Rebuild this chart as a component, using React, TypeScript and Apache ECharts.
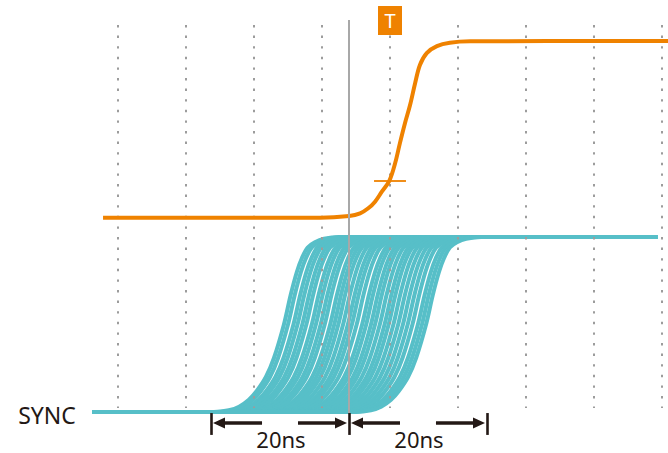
import React, { useEffect, useRef } from 'react';
import * as echarts from 'echarts';

// Time in ns (0 = trigger "T"), level in signal units (SYNC low = 0, high = 1)
const syncEdgeTime = [-10.3, -8.1, -6.6, -5.15, -4.0, -2.65, -1.45, 0, 1.0, 1.9, 2.65, 3.5, 4.55, 5.9, 8.1];
const syncEdgeLevel = [0, 0.01, 0.03, 0.07, 0.12, 0.2, 0.31, 0.5, 0.67, 0.8, 0.88, 0.94, 0.97, 0.99, 1.0];
// delay of each overlaid SYNC edge (ns, at 50 % level)
const syncDelays = [
  -15.6, -15.0, -14.2, -13.6, -12.9, -12.3, -11.5, -10.9, -10.2, -9.6, -8.8,
  -8.2, -7.6, -6.9, -6.2, -5.6, -4.9, -4.1, -3.5, -2.8, -2.2, -1.5, -0.8, -0.2,
  0.5, 1.2, 1.9, 2.6, 3.3, 4.1, 4.7, 5.3,
];
const syncStartTime = -43.8;
const syncEndTime = 39.3;
const syncLow = 0;
const syncHigh = 1;

const trigTime = [-42.2, -10.3, -6.0, -4.4, -3.2, -2.2, -1.2, -0.1, 0.75, 1.45, 2.2, 2.95, 3.7, 4.4, 5.4, 6.9, 8.8, 11.8, 40.9];
const trigLevel = [1.11, 1.11, 1.12, 1.135, 1.164, 1.202, 1.259, 1.321, 1.421, 1.535, 1.65, 1.754, 1.88, 1.983, 2.051, 2.091, 2.11, 2.118, 2.12];

const thresholdLevel = 1.32;
const cursorTime = -6.03;
const spanTicks = [-26.32, -6.03, 14.26];
const spanLabels = ['20ns', '20ns'];
const spanLabelTimes = [-16.03, 4.26];
const channelLabel = 'SYNC';
const triggerLabel = 'T';

const ORANGE = '#EF8200';
const TEAL = '#57BFC8';
const INK = '#231815';

export default function App() {
  const ref = useRef<HTMLDivElement>(null);
  useEffect(() => {
    if (!ref.current) return;
    const chart = echarts.init(ref.current, null, { renderer: 'svg' });

    const syncSeries = syncDelays.map((d) => {
      const pts: number[][] = [[syncStartTime, syncLow]];
      syncEdgeTime.forEach((t, i) => pts.push([t + d, syncEdgeLevel[i]]));
      pts.push([syncEndTime, syncHigh]);
      return {
        type: 'line',
        xAxisIndex: 0,
        yAxisIndex: 0,
        data: pts,
        symbol: 'none',
        smooth: 0.35,
        silent: true,
        z: 1,
        lineStyle: { color: TEAL, width: 4 },
      };
    });

    const trigData = trigTime.map((t, i) => [t, trigLevel[i]]);

    const arrowY = -0.063;
    const tickTop = -0.006;
    const tickBottom = -0.131;
    const inkLine = { color: INK, width: 3.5, type: 'solid' };
    const arrowSize = [11, 12];
    const seg = (a: number, b: number, headAtStart: boolean) => [
      { coord: [a, arrowY], lineStyle: inkLine, symbol: headAtStart ? 'triangle' : 'none', symbolSize: arrowSize },
      { coord: [b, arrowY], symbol: headAtStart ? 'none' : 'triangle', symbolSize: arrowSize },
    ];

    const option: any = {
      animation: false,
      backgroundColor: '#ffffff',
      grid: [
        { left: 0, right: 0, top: 0, bottom: 0 },
        { left: 118, right: 6, top: 25, bottom: 45 },
      ],
      xAxis: [
        { type: 'value', gridIndex: 0, min: -57.353, max: 40.882, show: false },
        {
          type: 'value', gridIndex: 1, min: -40, max: 40, interval: 10, z: 2,
          axisLine: { show: false }, axisTick: { show: false }, axisLabel: { show: false },
          splitLine: { show: true, lineStyle: { color: '#9c9c9c', width: 2, type: [2.4, 8.2] } },
        },
      ],
      yAxis: [
        { type: 'value', gridIndex: 0, min: -0.2343, max: 2.3543, show: false },
        { type: 'value', gridIndex: 1, min: 0, max: 1, show: false },
      ],
      series: [
        ...syncSeries,
        { type: 'line', xAxisIndex: 1, yAxisIndex: 1, data: [], silent: true },
        {
          type: 'line',
          xAxisIndex: 0,
          yAxisIndex: 0,
          data: [],
          z: 3,
          silent: true,
          markLine: {
            silent: true,
            symbol: ['none', 'none'],
            label: { show: false },
            data: [
              [
                { coord: [cursorTime, 2.24], lineStyle: { color: '#a8a8a8', width: 2, type: 'solid' } },
                { coord: [cursorTime, tickTop] },
              ],
              ...spanTicks.map((t) => [
                { coord: [t, tickTop], lineStyle: { color: INK, width: 2.6, type: 'solid' } },
                { coord: [t, tickBottom] },
              ]),
              seg(-25.15, -18.82, true),
              seg(-13.53, -7.21, false),
              seg(-4.85, 1.47, true),
              seg(6.76, 13.09, false),
            ],
          },
          markPoint: {
            silent: true,
            data: [
              ...spanLabelTimes.map((t, i) => ({
                coord: [t, -0.153],
                symbol: 'rect',
                symbolSize: 1,
                itemStyle: { color: 'rgba(0,0,0,0)' },
                label: {
                  show: true, position: 'inside', formatter: spanLabels[i],
                  color: INK, fontSize: 22, fontFamily: 'Noto Sans',
                },
              })),
              {
                coord: [-50.44, -0.017],
                symbol: 'rect',
                symbolSize: 1,
                itemStyle: { color: 'rgba(0,0,0,0)' },
                label: {
                  show: true, position: 'inside', formatter: channelLabel,
                  color: INK, fontSize: 23, fontFamily: 'Noto Sans',
                },
              },
              {
                coord: [0, 2.237],
                symbol: 'rect',
                symbolSize: [24, 29],
                itemStyle: { color: ORANGE },
                label: {
                  show: true, position: 'inside', formatter: triggerLabel,
                  color: '#ffffff', fontSize: 20, fontFamily: 'Noto Sans',
                },
              },
            ],
          },
        },
        {
          type: 'line',
          xAxisIndex: 0,
          yAxisIndex: 0,
          data: trigData,
          symbol: 'none',
          smooth: 0.35,
          silent: true,
          z: 4,
          lineStyle: { color: ORANGE, width: 4 },
          markLine: {
            silent: true,
            symbol: ['none', 'none'],
            label: { show: false },
            data: [
              [
                { coord: [-2.35, thresholdLevel], lineStyle: { color: ORANGE, width: 1.8, type: 'solid' } },
                { coord: [2.35, thresholdLevel] },
              ],
            ],
          },
        },
      ],
    };
    chart.setOption(option);
    return () => chart.dispose();
  }, []);

  return (
    <div
      ref={ref}
      style={{ position: 'absolute', left: 0, top: 0, width: 668, height: 453 }}
    />
  );
}
